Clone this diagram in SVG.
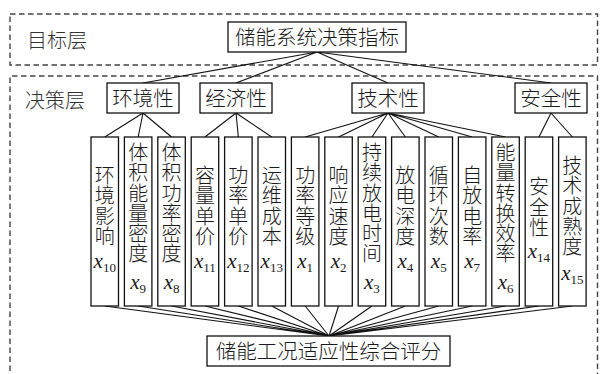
<svg xmlns="http://www.w3.org/2000/svg" width="601" height="374" viewBox="0 0 601 374">
<style>
.cjk{font-family:"Noto Sans CJK SC","Noto Sans",sans-serif;font-weight:300;fill:#1a1a1a;}
.box{fill:#fff;stroke:#111;stroke-width:1.3;}
.dash{fill:none;stroke:#444;stroke-width:1.4;stroke-dasharray:5.5 3.5;}
.ln{stroke:#111;stroke-width:1.1;fill:none;}
.lbl{font-family:"Liberation Serif","Times New Roman",serif;fill:#1a1a1a;}
.v{font-size:20px;writing-mode:vertical-rl;letter-spacing:0.3px;}
.c{font-size:20px;text-anchor:middle;}
.b{font-size:20.5px;text-anchor:middle;}
.layer{font-size:20px;fill:#333;}
</style>
<rect width="601" height="374" fill="#fff"/>
<g id="layers">
<rect class="dash" x="10" y="14" width="587.5" height="51"/>
<path class="dash" d="M10,380 V76 H597.5 V380"/>
<text class="cjk layer" x="27" y="47.5">目标层</text>
<text class="cjk layer" x="25" y="107.5">决策层</text>
</g>
<g id="connectors">
<path class="ln" d="M317,52 L143,83 M317,52 L236,83 M317,52 L388,83 M317,52 L551,83"/>
<path class="ln" d="M143,113 L104.75,137 M143,113 L138.15,137 M143,113 L171.55,137"/>
<path class="ln" d="M236,113 L204.95,137 M236,113 L238.35,137 M236,113 L271.75,137"/>
<path class="ln" d="M388,113 L305.15,137 M388,113 L338.55,137 M388,113 L371.95,137 M388,113 L405.35,137 M388,113 L438.75,137 M388,113 L472.15,137 M388,113 L505.55,137"/>
<path class="ln" d="M551,113 L538.95,137 M551,113 L572.35,137"/>
<path class="ln" d="M104.75,306 L329,336 M138.15,306 L329,336 M171.55,306 L329,336 M204.95,306 L329,336 M238.35,306 L329,336 M271.75,306 L329,336 M305.15,306 L329,336 M338.55,306 L329,336 M371.95,306 L329,336 M405.35,306 L329,336 M438.75,306 L329,336 M472.15,306 L329,336 M505.55,306 L329,336 M538.95,306 L329,336 M572.35,306 L329,336"/>
</g>
<g id="goal">
<rect class="box" x="228" y="22" width="178" height="30"/>
<text class="cjk b" x="317" y="44.5">储能系统决策指标</text>
</g>
<g id="cat-env">
<rect class="box" x="107" y="83" width="72" height="30"/>
<text class="cjk b" x="143" y="105.5">环境性</text>
</g>
<g id="cat-eco">
<rect class="box" x="200" y="83" width="72" height="30"/>
<text class="cjk b" x="236" y="105.5">经济性</text>
</g>
<g id="cat-tech">
<rect class="box" x="352" y="83" width="72" height="30"/>
<text class="cjk b" x="388" y="105.5">技术性</text>
</g>
<g id="cat-safe">
<rect class="box" x="515" y="83" width="72" height="30"/>
<text class="cjk b" x="551" y="105.5">安全性</text>
</g>
<g id="col1">
<rect class="box" x="91" y="137" width="27.5" height="169"/>
<text class="cjk v" x="104.75" y="165.4">环境影响</text>
<text class="lbl c" x="104.75" y="268"><tspan font-style="italic" font-size="21">x</tspan><tspan font-size="13" dy="4">10</tspan></text>
</g>
<g id="col2">
<rect class="box" x="124.4" y="137" width="27.5" height="169"/>
<text class="cjk v" x="138.15" y="142.4">体积能量密度</text>
<text class="lbl c" x="138.15" y="289"><tspan font-style="italic" font-size="21">x</tspan><tspan font-size="13" dy="4">9</tspan></text>
</g>
<g id="col3">
<rect class="box" x="157.8" y="137" width="27.5" height="169"/>
<text class="cjk v" x="171.55" y="142.4">体积功率密度</text>
<text class="lbl c" x="171.55" y="289"><tspan font-style="italic" font-size="21">x</tspan><tspan font-size="13" dy="4">8</tspan></text>
</g>
<g id="col4">
<rect class="box" x="191.2" y="137" width="27.5" height="169"/>
<text class="cjk v" x="204.95" y="165.4">容量单价</text>
<text class="lbl c" x="204.95" y="268"><tspan font-style="italic" font-size="21">x</tspan><tspan font-size="13" dy="4">11</tspan></text>
</g>
<g id="col5">
<rect class="box" x="224.6" y="137" width="27.5" height="169"/>
<text class="cjk v" x="238.35" y="165.4">功率单价</text>
<text class="lbl c" x="238.35" y="268"><tspan font-style="italic" font-size="21">x</tspan><tspan font-size="13" dy="4">12</tspan></text>
</g>
<g id="col6">
<rect class="box" x="258" y="137" width="27.5" height="169"/>
<text class="cjk v" x="271.75" y="165.4">运维成本</text>
<text class="lbl c" x="271.75" y="268"><tspan font-style="italic" font-size="21">x</tspan><tspan font-size="13" dy="4">13</tspan></text>
</g>
<g id="col7">
<rect class="box" x="291.4" y="137" width="27.5" height="169"/>
<text class="cjk v" x="305.15" y="165.4">功率等级</text>
<text class="lbl c" x="305.15" y="268"><tspan font-style="italic" font-size="21">x</tspan><tspan font-size="13" dy="4">1</tspan></text>
</g>
<g id="col8">
<rect class="box" x="324.8" y="137" width="27.5" height="169"/>
<text class="cjk v" x="338.55" y="165.4">响应速度</text>
<text class="lbl c" x="338.55" y="268"><tspan font-style="italic" font-size="21">x</tspan><tspan font-size="13" dy="4">2</tspan></text>
</g>
<g id="col9">
<rect class="box" x="358.2" y="137" width="27.5" height="169"/>
<text class="cjk v" x="371.95" y="142.4">持续放电时间</text>
<text class="lbl c" x="371.95" y="289"><tspan font-style="italic" font-size="21">x</tspan><tspan font-size="13" dy="4">3</tspan></text>
</g>
<g id="col10">
<rect class="box" x="391.6" y="137" width="27.5" height="169"/>
<text class="cjk v" x="405.35" y="165.4">放电深度</text>
<text class="lbl c" x="405.35" y="268"><tspan font-style="italic" font-size="21">x</tspan><tspan font-size="13" dy="4">4</tspan></text>
</g>
<g id="col11">
<rect class="box" x="425" y="137" width="27.5" height="169"/>
<text class="cjk v" x="438.75" y="165.4">循环次数</text>
<text class="lbl c" x="438.75" y="268"><tspan font-style="italic" font-size="21">x</tspan><tspan font-size="13" dy="4">5</tspan></text>
</g>
<g id="col12">
<rect class="box" x="458.4" y="137" width="27.5" height="169"/>
<text class="cjk v" x="472.15" y="165.4">自放电率</text>
<text class="lbl c" x="472.15" y="268"><tspan font-style="italic" font-size="21">x</tspan><tspan font-size="13" dy="4">7</tspan></text>
</g>
<g id="col13">
<rect class="box" x="491.8" y="137" width="27.5" height="169"/>
<text class="cjk v" x="505.55" y="142.4">能量转换效率</text>
<text class="lbl c" x="505.55" y="289"><tspan font-style="italic" font-size="21">x</tspan><tspan font-size="13" dy="4">6</tspan></text>
</g>
<g id="col14">
<rect class="box" x="525.2" y="137" width="27.5" height="169"/>
<text class="cjk v" x="538.95" y="176.9">安全性</text>
<text class="lbl c" x="538.95" y="258"><tspan font-style="italic" font-size="21">x</tspan><tspan font-size="13" dy="4">14</tspan></text>
</g>
<g id="col15">
<rect class="box" x="558.6" y="137" width="27.5" height="169"/>
<text class="cjk v" x="572.35" y="155.4">技术成熟度</text>
<text class="lbl c" x="572.35" y="280"><tspan font-style="italic" font-size="21">x</tspan><tspan font-size="13" dy="4">15</tspan></text>
</g>
<g id="score">
<rect class="box" x="207" y="336" width="243" height="30"/>
<text class="cjk b" x="328.5" y="358.5">储能工况适应性综合评分</text>
</g>
</svg>
